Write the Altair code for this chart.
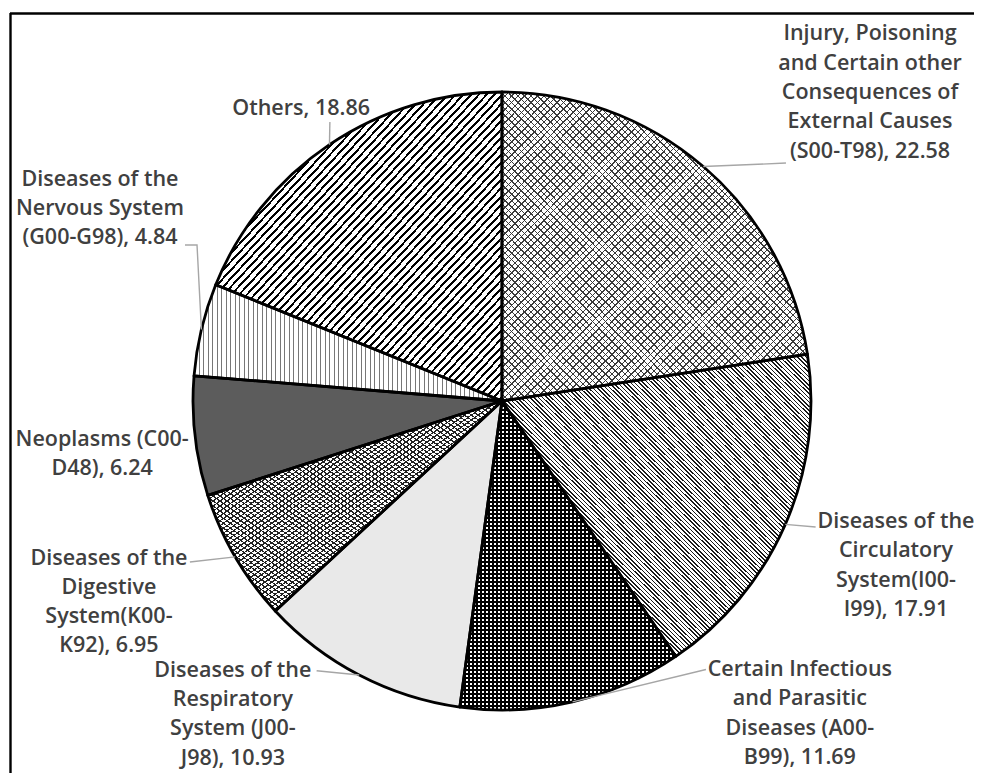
import math
import altair as alt
import pandas as pd

# ---------------- data ----------------
causes = [
    "Injury, Poisoning\nand Certain other\nConsequences of\nExternal Causes\n(S00-T98)",
    "Diseases of the\nCirculatory\nSystem(I00-\nI99)",
    "Certain Infectious\nand Parasitic\nDiseases (A00-\nB99)",
    "Diseases of the\nRespiratory\nSystem (J00-\nJ98)",
    "Diseases of the\nDigestive\nSystem(K00-\nK92)",
    "Neoplasms (C00-\nD48)",
    "Diseases of the\nNervous System\n(G00-G98)",
    "Others",
]
values = [22.58, 17.91, 11.69, 10.93, 6.95, 6.24, 4.84, 18.86]

# ---------------- layout (pixels / radius units) ----------------
W, H = 964, 760
PAD_L, PAD_T = 2, 5
CX, CY = 492, 388          # pie centre inside the view
R = 309                    # pie radius
LH = 29.3                  # label line height
FS = 21.5                  # label font size

# label block centres, in pie-radius units relative to the centre (y down)
label_pos = [(1.191, -0.997), (1.275, 0.534), (0.964, 1.013), (-0.871, 1.015),
             (-1.272, 0.652), (-1.294, 0.173), (-1.301, -0.621), (-0.650, -0.946)]
# leader line points after the slice edge point (radius units); empty = no leader
leader_pts = [
    [(0.919, -0.770)],
    [(1.015, 0.408)],
    [(0.660, 0.869)],
    [(-0.600, 0.873)],
    [(-1.010, 0.521)],
    [],
    [(-0.987, -0.505), (-1.026, -0.505)],
    [(-0.557, -0.903)],
]

total = sum(values)
starts, ends = [], []
acc = 0.0
for v in values:
    starts.append(acc / total * 2 * math.pi)
    acc += v
    ends.append(acc / total * 2 * math.pi)
mids = [(a + b) / 2 for a, b in zip(starts, ends)]


def slice_bbox(a0, a1):
    pts = [(0.0, 0.0), (math.sin(a0), -math.cos(a0)), (math.sin(a1), -math.cos(a1))]
    for k in range(5):
        a = k * math.pi / 2
        if a0 < a < a1:
            pts.append((math.sin(a), -math.cos(a)))
    xs_ = [p[0] for p in pts]
    ys_ = [p[1] for p in pts]
    return (max(xs_) - min(xs_)) * R, (max(ys_) - min(ys_)) * R


def stripes(direction, period, line, color, bg, w, h):
    if direction == "v":
        x1, y1, x2, y2 = 0, 0, 1, 0
        d = period / w
    elif direction == "h":
        x1, y1, x2, y2 = 0, 0, 0, 1
        d = period / h
    elif direction == "/":
        x1, y1, x2, y2 = 0, 0, 1, 1
        d = period * math.sqrt(1 / w ** 2 + 1 / h ** 2) / 2
    else:
        x1, y1, x2, y2 = 0, 1, 1, 0
        d = period * math.sqrt(1 / w ** 2 + 1 / h ** 2) / 2
    ld = d * line / period
    stops = []
    o = 0.0
    while o < 1:
        a = o
        b = min(o + ld, 1.0)
        c = min(o + d, 1.0)
        stops += [(a, color), (b, color), (b, bg), (c, bg)]
        o += d
    return {"gradient": "linear", "x1": x1, "y1": y1, "x2": x2, "y2": y2,
            "stops": [{"offset": round(s, 5), "color": col} for s, col in stops]}


NONE = "rgba(0,0,0,0)"
# (base pattern, overlay pattern) per slice
patterns = [
    (("/", 4.6, 1.0, "#3a3a3a", "#ffffff"), ("\\", 4.6, 1.0, "#3a3a3a", NONE)),
    (("\\", 3.0, 1.1, "#1a1a1a", "#ffffff"), None),
    (("h", 4.0, 2.3, "#000000", "#ffffff"), ("v", 4.0, 2.3, "#000000", NONE)),
    ("#e9e9e9", None),
    (("/", 4.0, 1.2, "#222222", "#ffffff"), ("\\", 4.0, 1.2, "#222222", NONE)),
    ("#5c5c5c", None),
    (("v", 4.5, 1.0, "#777777", "#ffffff"), None),
    (("/", 5.7, 2.0, "#000000", "#ffffff"), None),
]


def paint(spec, i):
    if spec is None:
        return "transparent"
    if isinstance(spec, str):
        return spec
    w, h = slice_bbox(starts[i], ends[i])
    return stripes(spec[0], spec[1], spec[2], spec[3], spec[4], w, h)


base_cond = [{"test": f"datum.idx == {i}", "value": paint(p[0], i)} for i, p in enumerate(patterns)]
over_cond = [{"test": f"datum.idx == {i}", "value": paint(p[1], i)}
             for i, p in enumerate(patterns) if p[1] is not None]

pie_df = pd.DataFrame({"idx": list(range(len(values))), "cause": causes, "value": values})

label_text = [f"{c}, {v:.2f}" for c, v in zip(causes, values)]
# Vega puts the first line of a multi-line text at the anchor: shift up to centre the block
first_line_y = [p[1] - (t.count("\n")) / 2 * LH / R for p, t in zip(label_pos, label_text)]
lab_df = pd.DataFrame({
    "idx": list(range(len(values))),
    "label": label_text,
    "lx": [p[0] for p in label_pos],
    "ly": first_line_y,
})

rows = []
for i, pts in enumerate(leader_pts):
    if not pts:
        continue
    rows.append({"idx": i, "seq": 0, "lx": math.sin(mids[i]), "ly": -math.cos(mids[i])})
    for k, (px, py) in enumerate(pts):
        rows.append({"idx": i, "seq": k + 1, "lx": px, "ly": py})
lead_df = pd.DataFrame(rows)

xs = alt.Scale(domain=[-CX / R, (W - CX) / R], nice=False, zero=False)
ys = alt.Scale(domain=[-CY / R, (H - CY) / R], nice=False, zero=False, reverse=True)

arc_enc = dict(
    theta=alt.Theta("value:Q", stack=True),
    order=alt.Order("idx:Q"),
    x=alt.X(datum=0, type="quantitative", scale=xs, axis=None),
    y=alt.Y(datum=0, type="quantitative", scale=ys, axis=None),
)

base = alt.Chart(pie_df).mark_arc(outerRadius=R, strokeWidth=0).encode(
    fill=alt.FillValue(value="white", condition=base_cond), **arc_enc)
over = alt.Chart(pie_df).mark_arc(outerRadius=R, strokeWidth=0).encode(
    fill=alt.FillValue(value="transparent", condition=over_cond), **arc_enc)
edges = alt.Chart(pie_df).mark_arc(outerRadius=R, fill="transparent", stroke="black",
                                   strokeWidth=2.8, strokeJoin="round").encode(**arc_enc)

leaders = alt.Chart(lead_df).mark_line(color="#a6a6a6", strokeWidth=1.4).encode(
    x=alt.X("lx:Q", scale=xs, axis=None),
    y=alt.Y("ly:Q", scale=ys, axis=None),
    detail="idx:N",
    order="seq:Q",
)

labels = alt.Chart(lab_df).mark_text(
    font="Open Sans", fontWeight=600, fontSize=FS, lineHeight=LH, lineBreak="\n",
    align="center", baseline="middle", color="#404040",
).encode(
    x=alt.X("lx:Q", scale=xs, axis=None),
    y=alt.Y("ly:Q", scale=ys, axis=None),
    text="label:N",
)

frame_top = alt.Chart(alt.Data(values=[{"k": 0}])).mark_rule(color="black", strokeWidth=2.4).encode(
    x=alt.value(0), x2=alt.value(W), y=alt.value(0.5))
frame_left = alt.Chart(alt.Data(values=[{"k": 0}])).mark_rule(color="black", strokeWidth=2.4).encode(
    x=alt.value(0.5), y=alt.value(0), y2=alt.value(H))

chart = alt.layer(base, over, edges, leaders, labels, frame_top, frame_left).properties(
    width=W, height=H,
    padding={"left": PAD_L, "top": PAD_T, "right": 0, "bottom": 0},
    autosize=alt.AutoSizeParams(type="none"),
).configure_view(stroke=None)

chart.save("out.html", embed_options={"renderer": "svg", "actions": False})
